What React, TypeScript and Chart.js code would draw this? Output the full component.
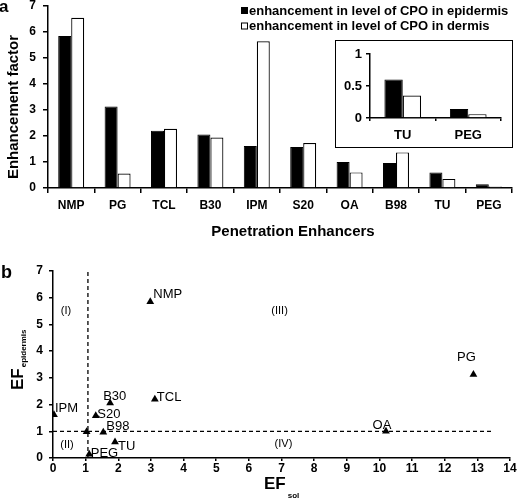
import React, { useEffect, useRef } from "react";
import { Chart, registerables } from "chart.js";

Chart.register(...registerables);

const FONT = '"Liberation Sans", Arial, Helvetica, sans-serif';

// ---------- data ----------
const categories = ["NMP", "PG", "TCL", "B30", "IPM", "S20", "OA", "B98", "TU", "PEG"];
const epidermis = [5.85, 3.13, 2.2, 2.06, 1.62, 1.58, 1.0, 0.96, 0.6, 0.14];
const dermis = [6.55, 0.56, 2.28, 1.94, 5.64, 1.73, 0.6, 1.37, 0.35, 0.06];
const legendLabels = [
  "enhancement in level of CPO in epidermis",
  "enhancement in level of CPO in dermis",
];
const insetCategories = ["TU", "PEG"];
const barYMax = 7;
const insetYMax = 1;

// panel b
const efSol = [2.98, 12.88, 3.12, 1.75, 0.03, 1.31, 10.2, 1.54, 1.9, 1.11];
const controlSol = [1.03];
const controlEpi = [0.98];
const vLineX = [1.07, 1.07];
const vLineY = [0, 7];
const hLineX = [0, 13.45];
const hLineY = [1, 1];
const quadrantLabels = ["(I)", "(II)", "(III)", "(IV)"];
const quadrantX = [0.4, 0.43, 6.94, 7.06];
const quadrantY = [5.51, 0.49, 5.51, 0.52];
const scatterXMax = 14;
const scatterYMax = 7;

// label placement (px offsets from each point: dx, dy, align)
const labelDx = [3, -7, 2, -7, 1, 1.5, -4, 3, 3, 1.5];
const labelDy = [-4, -13, 1.5, -3, -2.5, 2, -2, -2.4, 8, 3];
const labelAlign = ["left", "center", "left", "left", "left", "left", "center", "left", "left", "left"];

const axisColor = "#000";

function bold(size: number) {
  return `bold ${size}px ${FONT}`;
}

const barTextPlugin = {
  id: "barText",
  afterDraw(chart: any) {
    const ctx = chart.ctx;
    ctx.save();
    ctx.fillStyle = "#000";
    // panel letter
    ctx.font = bold(17);
    ctx.textAlign = "left";
    ctx.textBaseline = "alphabetic";
    ctx.fillText("a", -1, 12);
    // y title
    ctx.save();
    ctx.translate(18, 107);
    ctx.rotate(-Math.PI / 2);
    ctx.font = bold(15);
    ctx.textAlign = "center";
    ctx.fillText("Enhancement factor", 0, 0);
    ctx.restore();
    // x title
    ctx.font = bold(15);
    ctx.textAlign = "center";
    ctx.textBaseline = "middle";
    ctx.fillText("Penetration Enhancers", 293, 232);
    // legend
    ctx.font = bold(13);
    ctx.textAlign = "left";
    chart.data.datasets.forEach((ds: any, i: number) => {
      const y = 11 + i * 15.5;
      ctx.fillStyle = ds.backgroundColor;
      ctx.fillRect(241, y - 3, 6, 6);
      ctx.strokeStyle = "#000";
      ctx.lineWidth = 1;
      ctx.strokeRect(241.5, y - 3.5, 6, 6);
      ctx.fillStyle = "#000";
      ctx.fillText(legendLabels[i], 249, y);
    });
    ctx.restore();
  },
};

const scatterTextPlugin = {
  id: "scatterText",
  afterDraw(chart: any) {
    const ctx = chart.ctx;
    const xs = chart.scales.x;
    const ys = chart.scales.y;
    ctx.save();
    ctx.fillStyle = "#000";
    // panel letter
    ctx.font = bold(18);
    ctx.textAlign = "left";
    ctx.textBaseline = "alphabetic";
    ctx.fillText("b", 1, 28);
    // point labels
    ctx.font = `13px ${FONT}`;
    categories.forEach((name, i) => {
      const px = xs.getPixelForValue(efSol[i]);
      const py = ys.getPixelForValue(epidermis[i]);
      ctx.textAlign = labelAlign[i];
      ctx.fillText(name, px + labelDx[i], py + labelDy[i]);
    });
    // quadrant labels
    ctx.font = `11px ${FONT}`;
    ctx.textAlign = "center";
    ctx.textBaseline = "middle";
    quadrantLabels.forEach((q, i) => {
      ctx.fillText(q, xs.getPixelForValue(quadrantX[i]), ys.getPixelForValue(quadrantY[i]));
    });
    // y title EF_epidermis
    ctx.save();
    ctx.translate(23, 140);
    ctx.rotate(-Math.PI / 2);
    ctx.textAlign = "left";
    ctx.textBaseline = "alphabetic";
    ctx.font = bold(17);
    ctx.fillText("EF", 0, 0);
    const w = ctx.measureText("EF").width;
    ctx.font = bold(8);
    ctx.fillText("epidermis", w + 1, 3);
    ctx.restore();
    // x title EF_sol
    ctx.textAlign = "left";
    ctx.textBaseline = "alphabetic";
    ctx.font = bold(17);
    ctx.fillText("EF", 264, 239);
    const w2 = ctx.measureText("EF").width;
    ctx.font = bold(8);
    ctx.fillText("sol", 264 + w2 + 2, 248);
    ctx.restore();
  },
};

function axisGrid(tickLength: number) {
  return { drawOnChartArea: false, drawTicks: true, tickLength, color: axisColor, lineWidth: 1.5 };
}
const border = { display: true, color: axisColor, width: 1.5 };

function fixY(width: number) {
  return (s: any) => {
    s.width = width;
    s.paddingTop = 0;
    s.paddingBottom = 0;
  };
}
function fixX(height: number) {
  return (s: any) => {
    s.height = height;
    s.paddingLeft = 0;
    s.paddingRight = 0;
  };
}
const plainNumber = (v: any) => `${v}`;

export default function App() {
  const barRef = useRef<HTMLCanvasElement>(null);
  const insetRef = useRef<HTMLCanvasElement>(null);
  const scatterRef = useRef<HTMLCanvasElement>(null);

  useEffect(() => {
    Chart.defaults.font.family = FONT;
    Chart.defaults.color = "#000";

    const barChart = new Chart(barRef.current!, {
      type: "bar",
      data: {
        labels: categories,
        datasets: [
          { label: legendLabels[0], data: epidermis, backgroundColor: "#000", borderColor: "#000", borderWidth: 1 },
          { label: legendLabels[1], data: dermis, backgroundColor: "#fff", borderColor: "#000", borderWidth: 1.2 },
        ],
      },
      options: {
        responsive: false,
        animation: false,
        events: [],
        categoryPercentage: 0.56,
        barPercentage: 1,
        layout: { padding: { left: 0, right: 8, top: 6, bottom: 0 } },
        plugins: { legend: { display: false }, tooltip: { enabled: false } },
        scales: {
          x: {
            grid: { ...axisGrid(5), offset: true },
            border,
            ticks: { font: { size: 12, weight: "bold" }, color: "#000", padding: 5, maxRotation: 0, autoSkip: false },
            afterFit: fixX(62),
          },
          y: {
            min: 0,
            max: barYMax,
            grid: axisGrid(5),
            border,
            ticks: { stepSize: 1, font: { size: 12, weight: "bold" }, color: "#000", padding: 7, callback: plainNumber },
            afterFit: fixY(48),
          },
        },
      } as any,
      plugins: [barTextPlugin],
    });

    const n = categories.length;
    const insetChart = new Chart(insetRef.current!, {
      type: "bar",
      data: {
        labels: insetCategories,
        datasets: [
          { data: epidermis.slice(n - 2), backgroundColor: "#000", borderColor: "#000", borderWidth: 1 },
          { data: dermis.slice(n - 2), backgroundColor: "#fff", borderColor: "#000", borderWidth: 1.2 },
        ],
      },
      options: {
        responsive: false,
        animation: false,
        events: [],
        categoryPercentage: 0.56,
        barPercentage: 1,
        layout: { padding: { left: 0, right: 10, top: 13, bottom: 0 } },
        plugins: { legend: { display: false }, tooltip: { enabled: false } },
        scales: {
          x: {
            grid: { ...axisGrid(3), offset: true },
            border,
            ticks: { font: { size: 13, weight: "bold" }, color: "#000", padding: 7, maxRotation: 0 },
            afterFit: fixX(28),
          },
          y: {
            min: 0,
            max: insetYMax,
            grid: axisGrid(4),
            border,
            ticks: { stepSize: 0.5, font: { size: 13, weight: "bold" }, color: "#000", padding: 4, callback: plainNumber },
            afterFit: fixY(34),
          },
        },
      } as any,
    });

    const scatterChart = new Chart(scatterRef.current!, {
      type: "scatter",
      data: {
        datasets: [
          {
            data: categories.map((_, i) => ({ x: efSol[i], y: epidermis[i] })),
            pointStyle: "triangle",
            pointRadius: 4.5,
            backgroundColor: "#000",
            borderColor: "#000",
            borderWidth: 0,
          },
          {
            data: controlSol.map((x, i) => ({ x, y: controlEpi[i] })),
            pointStyle: "triangle",
            pointRadius: 4.5,
            backgroundColor: "#000",
            borderColor: "#000",
            borderWidth: 0,
          },
          {
            data: hLineX.map((x, i) => ({ x, y: hLineY[i] })),
            showLine: true,
            pointRadius: 0,
            borderColor: "#000",
            borderWidth: 1.3,
            borderDash: [4, 3],
          },
          {
            data: vLineX.map((x, i) => ({ x, y: vLineY[i] })),
            showLine: true,
            pointRadius: 0,
            borderColor: "#000",
            borderWidth: 1.3,
            borderDash: [4, 3],
          },
        ],
      },
      options: {
        responsive: false,
        animation: false,
        events: [],
        layout: { padding: { left: 0, right: 10, top: 21, bottom: 0 } },
        plugins: { legend: { display: false }, tooltip: { enabled: false } },
        scales: {
          x: {
            type: "linear",
            min: 0,
            max: scatterXMax,
            grid: axisGrid(3),
            border,
            ticks: { stepSize: 1, font: { size: 12, weight: "bold" }, color: "#000", padding: 0, maxRotation: 0 },
            afterFit: fixX(43),
          },
          y: {
            min: 0,
            max: scatterYMax,
            grid: axisGrid(4),
            border,
            ticks: { stepSize: 1, font: { size: 12, weight: "bold" }, color: "#000", padding: 6 },
            afterFit: fixY(53),
          },
        },
      } as any,
      plugins: [scatterTextPlugin],
    });

    return () => {
      barChart.destroy();
      insetChart.destroy();
      scatterChart.destroy();
    };
  }, []);

  return (
    <div style={{ position: "fixed", left: 0, top: 0, width: 520, height: 501, background: "#fff", overflow: "hidden" }}>
      <canvas ref={barRef} width={520} height={250} style={{ position: "absolute", left: 0, top: 0, width: 520, height: 250 }} />
      <div
        style={{
          position: "absolute",
          left: 335,
          top: 40,
          width: 178,
          height: 108,
          border: "1.5px solid #000",
          boxSizing: "border-box",
          background: "#fff",
        }}
      >
        <canvas ref={insetRef} width={175} height={105} style={{ position: "absolute", left: 0, top: 0, width: 175, height: 105 }} />
      </div>
      <canvas ref={scatterRef} width={520} height={251} style={{ position: "absolute", left: 0, top: 250, width: 520, height: 251 }} />
    </div>
  );
}
